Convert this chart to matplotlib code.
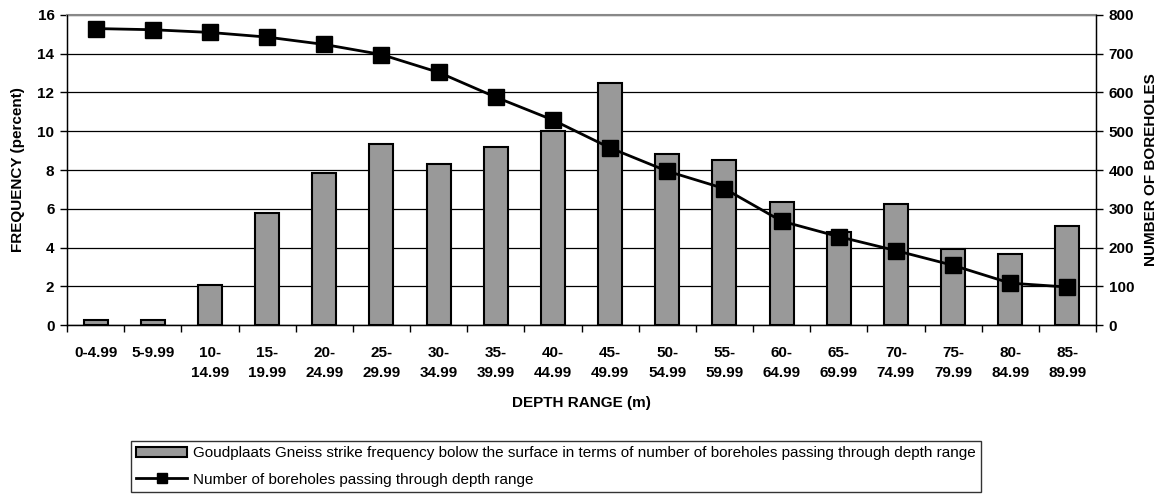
import matplotlib
matplotlib.use("Agg")
import matplotlib.pyplot as plt
import numpy as np

categories = ["0-4.99", "5-9.99", "10-\n14.99", "15-\n19.99", "20-\n24.99", "25-\n29.99",
              "30-\n34.99", "35-\n39.99", "40-\n44.99", "45-\n49.99", "50-\n54.99", "55-\n59.99",
              "60-\n64.99", "65-\n69.99", "70-\n74.99", "75-\n79.99", "80-\n84.99", "85-\n89.99"]
frequency = [0.24, 0.24, 2.09, 5.80, 7.86, 9.32, 8.31, 9.20, 10.01, 12.48,
             8.84, 8.52, 6.33, 4.79, 6.27, 3.93, 3.66, 5.13]
boreholes = [765, 762, 755, 743, 724, 698, 652, 588, 529, 457,
             397, 352, 268, 228, 192, 154, 108, 98]

bar_label = ("Goudplaats Gneiss strike frequency bolow the surface in terms of number of "
             "boreholes passing through depth range")
line_label = "Number of boreholes passing through depth range"

plt.rcParams['font.family'] = ['Liberation Sans', 'DejaVu Sans']
FS = 11

fig = plt.figure(figsize=(11.66, 4.94), dpi=100)
ax = fig.add_axes([67/1166, 1-325/494, (1096-67)/1166, (325-15)/494])
x = np.arange(len(categories))

bars = ax.bar(x, frequency, width=0.42, color="#999999", edgecolor="black",
              linewidth=1.5, label=bar_label, zorder=2)
ax.set_xlim(-0.5, len(categories)-0.5)
ax.set_ylim(0, 16)
ax.set_yticks(range(0, 17, 2))
ax.yaxis.grid(True, color="black", linewidth=0.9, zorder=0)
ax.set_axisbelow(True)
ax.set_xticks(x)
ax.set_xticklabels(categories, fontsize=FS, fontweight="bold", linespacing=1.6, va="top")
ax.set_xticks(np.arange(-0.5, len(categories), 1), minor=True)
ax.tick_params(axis="x", which="major", length=0, pad=15)
ax.tick_params(axis="x", which="minor", length=5, width=1, direction="out")
ax.tick_params(axis="y", labelsize=FS, length=5, width=1, direction="out", pad=4)
for lab in ax.get_yticklabels():
    lab.set_fontweight("bold")
ax.set_ylabel("FREQUENCY (percent)", fontsize=FS, fontweight="bold", labelpad=9)
ax.set_xlabel("DEPTH RANGE (m)", fontsize=FS, fontweight="bold", labelpad=11)
ax.spines["top"].set_color("#888888")
ax.spines["top"].set_linewidth(1.5)
ax.spines["left"].set_linewidth(1)
ax.spines["bottom"].set_linewidth(1)

ax2 = ax.twinx()
line, = ax2.plot(x, boreholes, color="black", linewidth=2, marker="s", markersize=11.5,
                 markerfacecolor="black", label=line_label, zorder=3)
ax2.set_ylim(0, 800)
ax2.set_yticks(range(0, 801, 100))
ax2.tick_params(axis="y", labelsize=FS, length=5, width=1, direction="out", pad=4)
for lab in ax2.get_yticklabels():
    lab.set_fontweight("bold")
ax2.set_ylabel("NUMBER OF BOREHOLES", fontsize=FS, fontweight="bold", labelpad=7)
ax2.spines["top"].set_visible(False)
ax2.spines["right"].set_linewidth(1)

leg = fig.legend([bars, line], [bar_label, line_label], loc="upper left",
                 bbox_to_anchor=(131/1166, 1-441/494), ncol=1, fontsize=11,
                 frameon=True, fancybox=False, edgecolor="black", borderpad=0.35,
                 handlelength=3.3, handletextpad=0.4, labelspacing=0.8,
                 borderaxespad=0, markerscale=0.6)
leg.get_frame().set_linewidth(1)

fig.savefig("out.png", dpi=100)
